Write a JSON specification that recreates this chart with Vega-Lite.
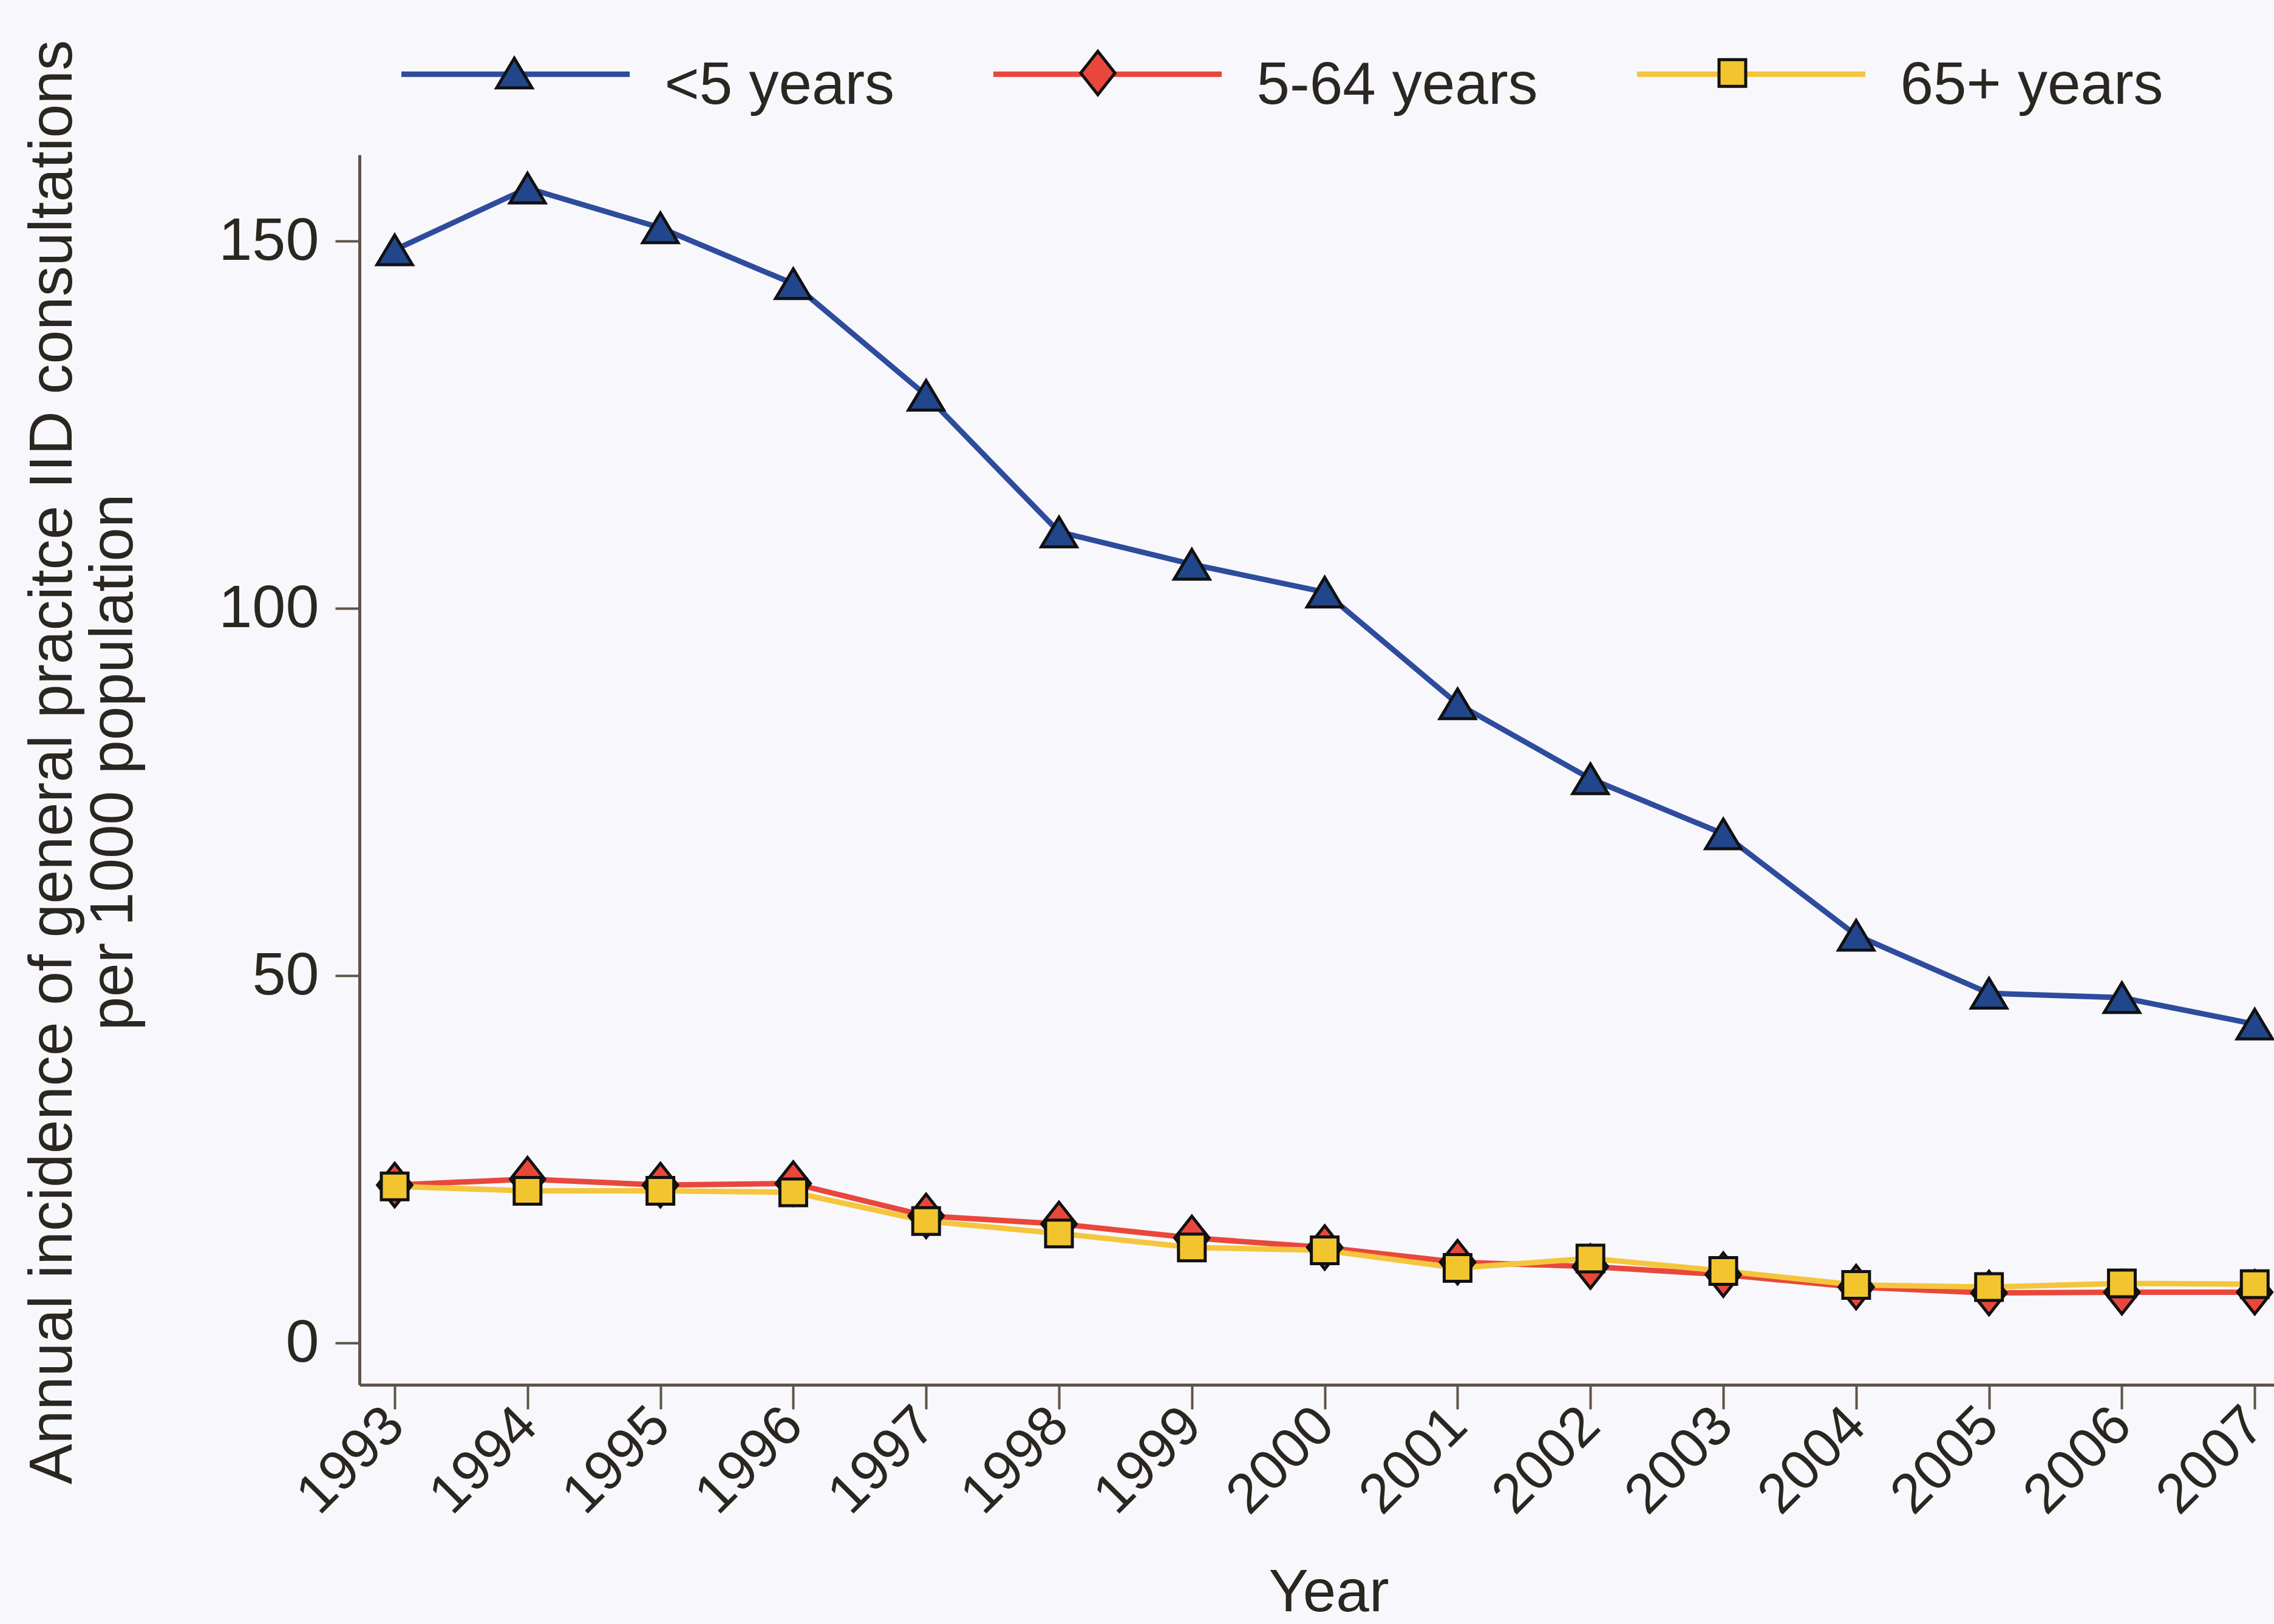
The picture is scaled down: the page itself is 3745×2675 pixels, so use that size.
{
  "$schema": "https://vega.github.io/schema/vega-lite/v6.json",
  "autosize": {"type": "none"},
  "width": 3153,
  "height": 2026,
  "padding": {"left": 592, "top": 255, "right": 0, "bottom": 394},
  "background": "#f8f7fc",
  "config": {"view": {"stroke": null}, "font": "Liberation Sans"},
  "data": {"values": [
    {"year": 1993, "group": "<5 years", "rate": 148.8},
    {"year": 1994, "group": "<5 years", "rate": 157.2},
    {"year": 1995, "group": "<5 years", "rate": 151.8},
    {"year": 1996, "group": "<5 years", "rate": 144.2},
    {"year": 1997, "group": "<5 years", "rate": 129.0},
    {"year": 1998, "group": "<5 years", "rate": 110.4},
    {"year": 1999, "group": "<5 years", "rate": 106.0},
    {"year": 2000, "group": "<5 years", "rate": 102.2},
    {"year": 2001, "group": "<5 years", "rate": 87.0},
    {"year": 2002, "group": "<5 years", "rate": 76.8},
    {"year": 2003, "group": "<5 years", "rate": 69.3},
    {"year": 2004, "group": "<5 years", "rate": 55.5},
    {"year": 2005, "group": "<5 years", "rate": 47.6},
    {"year": 2006, "group": "<5 years", "rate": 47.0},
    {"year": 2007, "group": "<5 years", "rate": 43.4},
    {"year": 1993, "group": "5-64 years", "rate": 21.5},
    {"year": 1994, "group": "5-64 years", "rate": 22.3},
    {"year": 1995, "group": "5-64 years", "rate": 21.5},
    {"year": 1996, "group": "5-64 years", "rate": 21.7},
    {"year": 1997, "group": "5-64 years", "rate": 17.3},
    {"year": 1998, "group": "5-64 years", "rate": 16.2},
    {"year": 1999, "group": "5-64 years", "rate": 14.3},
    {"year": 2000, "group": "5-64 years", "rate": 13.0},
    {"year": 2001, "group": "5-64 years", "rate": 11.0},
    {"year": 2002, "group": "5-64 years", "rate": 10.4},
    {"year": 2003, "group": "5-64 years", "rate": 9.3},
    {"year": 2004, "group": "5-64 years", "rate": 7.6},
    {"year": 2005, "group": "5-64 years", "rate": 6.8},
    {"year": 2006, "group": "5-64 years", "rate": 6.9},
    {"year": 2007, "group": "5-64 years", "rate": 6.9},
    {"year": 1993, "group": "65+ years", "rate": 21.3},
    {"year": 1994, "group": "65+ years", "rate": 20.7},
    {"year": 1995, "group": "65+ years", "rate": 20.7},
    {"year": 1996, "group": "65+ years", "rate": 20.5},
    {"year": 1997, "group": "65+ years", "rate": 16.6},
    {"year": 1998, "group": "65+ years", "rate": 14.9},
    {"year": 1999, "group": "65+ years", "rate": 13.0},
    {"year": 2000, "group": "65+ years", "rate": 12.6},
    {"year": 2001, "group": "65+ years", "rate": 10.2},
    {"year": 2002, "group": "65+ years", "rate": 11.5},
    {"year": 2003, "group": "65+ years", "rate": 9.8},
    {"year": 2004, "group": "65+ years", "rate": 7.9},
    {"year": 2005, "group": "65+ years", "rate": 7.6},
    {"year": 2006, "group": "65+ years", "rate": 8.1},
    {"year": 2007, "group": "65+ years", "rate": 8.0}
  ]},
  "encoding": {
    "x": {
      "field": "year", "type": "quantitative",
      "scale": {"domain": [1992.735, 2007.145], "nice": false, "zero": false},
      "axis": {
        "values": [1993, 1994, 1995, 1996, 1997, 1998, 1999, 2000, 2001, 2002, 2003, 2004, 2005, 2006, 2007],
        "format": "d",
        "grid": false,
        "title": "Year",
        "titleFont": "Liberation Sans",
        "titleFontSize": 98,
        "titleFontWeight": "normal",
        "titleColor": "#2a2620",
        "titleX": 1596,
        "titleY": 372,
        "titleAlign": "center",
        "titleBaseline": "alphabetic",
        "labelFont": "Liberation Sans",
        "labelFontSize": 92,
        "labelColor": "#2a2620",
        "labelAngle": -45,
        "labelAlign": "right",
        "labelBaseline": "middle",
        "labelPadding": 12,
        "labelDx": -7,
        "labelLimit": 2000,
        "labelOverlap": false,
        "labelFlush": false,
        "labelBound": false,
        "tickSize": 40,
        "tickWidth": 4,
        "tickColor": "#5e5448",
        "domainColor": "#5e5448",
        "domainWidth": 5
      }
    },
    "y": {
      "field": "rate", "type": "quantitative",
      "scale": {"domain": [-5.7, 161.74], "nice": false, "zero": false},
      "axis": {
        "values": [0, 50, 100, 150],
        "grid": false,
        "title": ["Annual incidence of general pracitce IID consultations", "per 1000 population"],
        "titleFont": "Liberation Sans",
        "titleFontSize": 100,
        "titleFontWeight": "normal",
        "titleColor": "#2a2620",
        "titleAngle": -90,
        "titleX": -475,
        "titleY": 1000,
        "titleAlign": "center",
        "titleBaseline": "alphabetic",
        "titleLineHeight": 100,
        "titleLimit": 6000,
        "labelFont": "Liberation Sans",
        "labelFontSize": 99,
        "labelColor": "#2a2620",
        "labelAlign": "right",
        "labelBaseline": "middle",
        "labelPadding": 27,
        "labelLimit": 2000,
        "labelFlush": false,
        "labelOverlap": false,
        "tickSize": 40,
        "tickWidth": 4,
        "tickColor": "#5e5448",
        "domainColor": "#5e5448",
        "domainWidth": 5
      }
    }
  },
  "layer": [
    {
      "mark": {"type": "line", "strokeWidth": 9},
      "encoding": {
        "color": {
          "field": "group", "type": "nominal",
          "scale": {"domain": ["<5 years", "5-64 years", "65+ years"], "range": ["#2d4c9c", "#e9473b", "#f4c63d"]},
          "legend": {
            "orient": "none", "legendX": 64.5, "legendY": -325.5,
            "direction": "horizontal", "title": null,
            "symbolType": "stroke", "symbolSize": 141376, "symbolStrokeWidth": 9,
            "labelFont": "Liberation Sans", "labelFontSize": 98, "labelColor": "#2a2620",
            "labelOffset": 53, "columnPadding": 144, "labelLimit": 2000,
            "encode": {"labels": {"update": {"dy": {"value": 20}}}}
          }
        }
      }
    },
    {
      "mark": {"type": "point", "filled": true, "size": 141376, "stroke": "#111111", "strokeWidth": 5, "opacity": 1},
      "encoding": {
        "fill": {
          "field": "group", "type": "nominal", "sort": null,
          "scale": {"range": ["#22468c", "#e9473b", "#f2c52f"]},
          "legend": {
            "orient": "none", "legendX": 64.5, "legendY": -325.5,
            "direction": "horizontal", "title": null,
            "symbolSize": 141376, "symbolStrokeWidth": 5, "symbolStrokeColor": "#111111", "symbolOpacity": 1,
            "labelFont": "Liberation Sans", "labelFontSize": 98, "labelExpr": "''",
            "labelOffset": 57, "columnPadding": 144, "labelLimit": 2000,
            "encode": {"labels": {"update": {"dx": {"signal": "datum.value === '<5 years' ? 379 : datum.value === '5-64 years' ? 463 : 433"}}}}
          }
        },
        "shape": {
          "field": "group", "type": "nominal", "sort": null,
          "scale": {"range": [
            "M0,-0.13L0.155,0.13L-0.155,0.13Z",
            "M0,-0.19L0.15,0L0,0.19L-0.15,0Z",
            "M-0.117,-0.117L0.117,-0.117L0.117,0.117L-0.117,0.117Z"
          ]},
          "legend": {
            "orient": "none", "legendX": 64.5, "legendY": -325.5,
            "direction": "horizontal", "title": null,
            "symbolSize": 141376, "symbolStrokeWidth": 5, "symbolStrokeColor": "#111111", "symbolOpacity": 1,
            "labelFont": "Liberation Sans", "labelFontSize": 98, "labelExpr": "''",
            "labelOffset": 57, "columnPadding": 144, "labelLimit": 2000,
            "encode": {"labels": {"update": {"dx": {"signal": "datum.value === '<5 years' ? 379 : datum.value === '5-64 years' ? 463 : 433"}}}}
          }
        }
      }
    }
  ]
}
